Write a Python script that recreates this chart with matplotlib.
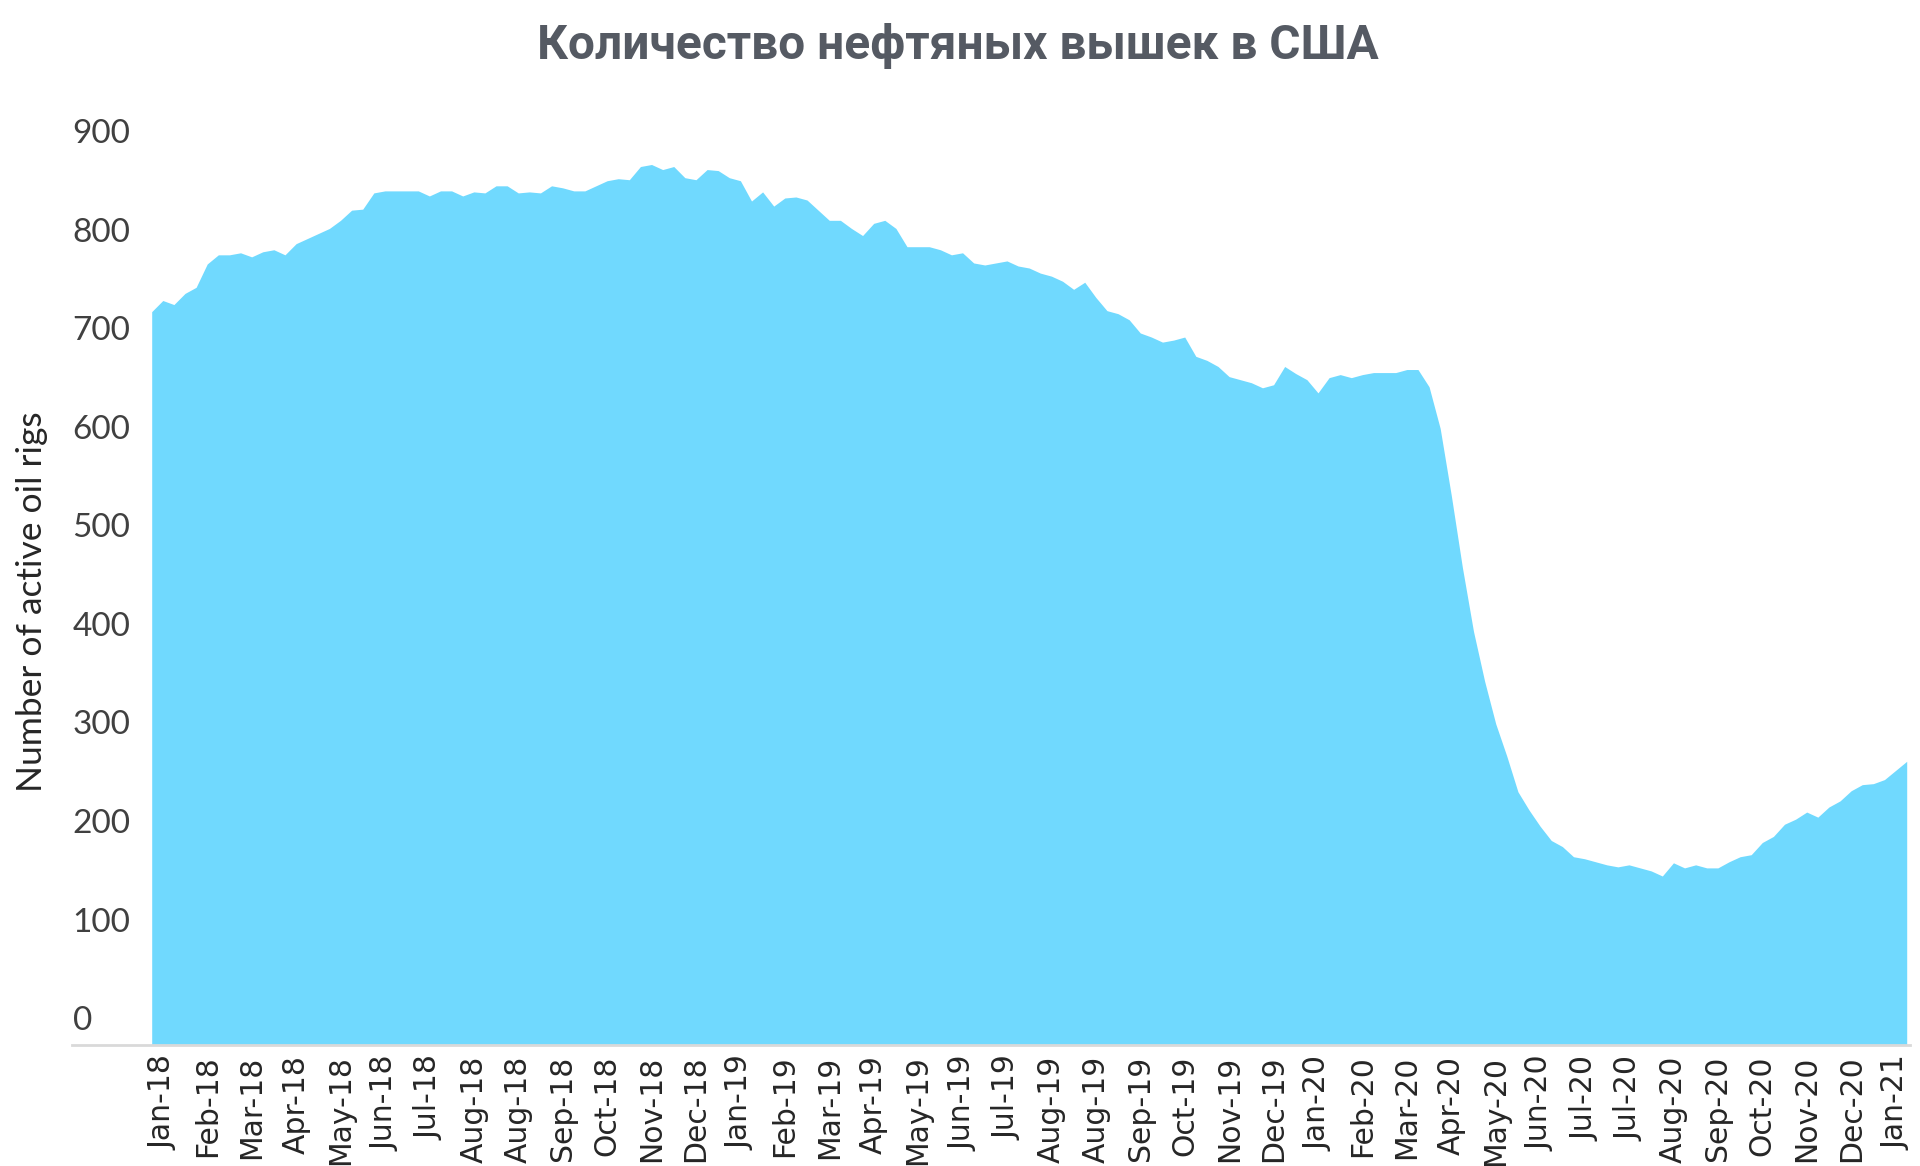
import numpy as np
import matplotlib
matplotlib.use('Agg')
import matplotlib.pyplot as plt
from matplotlib.lines import Line2D

# weekly count of active oil rigs
rigs = [
    722, 733, 729, 740, 746, 769, 778, 778, 780, 776,
    781, 783, 778, 789, 794, 799, 804, 812, 822, 823,
    839, 841, 841, 841, 841, 836, 841, 841, 836, 840,
    839, 846, 846, 839, 840, 839, 846, 844, 841, 841,
    846, 851, 853, 852, 865, 867, 862, 865, 854, 852,
    862, 861, 854, 851, 831, 840, 826, 834, 835, 832,
    822, 812, 812, 804, 797, 809, 812, 804, 786, 786,
    786, 783, 778, 780, 770, 768, 770, 772, 767, 765,
    760, 757, 752, 744, 751, 736, 723, 720, 714, 701,
    697, 692, 694, 697, 678, 674, 668, 658, 655, 652,
    647, 650, 668, 661, 655, 642, 657, 660, 657, 660,
    662, 662, 662, 665, 665, 648, 607, 541, 470, 407,
    358, 316, 284, 249, 231, 215, 201, 195, 185, 183,
    180, 177, 175, 177, 174, 171, 166, 179, 174, 177,
    174, 174, 180, 185, 187, 199, 205, 217, 222, 229,
    224, 234, 240, 250, 256, 257, 261, 270, 279,
]

# category labels, one every 4 weeks
month_labels = [
    'Jan-18', 'Feb-18', 'Mar-18', 'Apr-18', 'May-18', 'Jun-18', 'Jul-18',
    'Aug-18', 'Aug-18', 'Sep-18', 'Oct-18', 'Nov-18', 'Dec-18',
    'Jan-19', 'Feb-19', 'Mar-19', 'Apr-19', 'May-19', 'Jun-19', 'Jul-19',
    'Aug-19', 'Aug-19', 'Sep-19', 'Oct-19', 'Nov-19', 'Dec-19',
    'Jan-20', 'Feb-20', 'Mar-20', 'Apr-20', 'May-20', 'Jun-20', 'Jul-20',
    'Jul-20', 'Aug-20', 'Sep-20', 'Oct-20', 'Nov-20', 'Dec-20', 'Jan-21',
]

y_ticks = [0, 100, 200, 300, 400, 500, 600, 700, 800, 900]

title = 'Количество нефтяных вышек в США'
y_title = 'Number of active oil rigs'

W, H = 1920, 1166
fig = plt.figure(figsize=(W / 100, H / 100), dpi=100)
fig.patch.set_facecolor('white')

left, right = 151.7, 1906.7
top, bottom = 131.0, 1044.5
ax = fig.add_axes([left / W, 1 - bottom / H, (right - left) / W, (bottom - top) / H])

x = np.arange(len(rigs))
ax.fill_between(x, rigs, 0, color='#70d9fe', linewidth=0)

ax.set_xlim(0, len(rigs) - 1)
ax.set_ylim(0, 900)

for s in ax.spines.values():
    s.set_visible(False)

ax.set_xticks(x[1::4])
ax.set_xticklabels(month_labels, rotation=90, fontsize=21.5, family='DejaVu Sans',
                   color='#262626', va='top', ha='center')
ax.tick_params(axis='x', length=0, pad=8)

# the source squeezes its value labels slightly towards the top (0 sits above the baseline)
label_pos = [v + 26 * (900 - v) / 900 for v in y_ticks]
ax.set_yticks(label_pos)
ax.set_yticklabels([str(v) for v in y_ticks], fontsize=24, family='Lato', color='#404040')
ax.tick_params(axis='y', length=0, pad=57)
for lab in ax.get_yticklabels():
    lab.set_horizontalalignment('left')

ax.set_ylabel(y_title, fontsize=25.5, family='Lato', color='#262626', labelpad=0)
ax.yaxis.set_label_coords(-0.059, 0.485)

# baseline runs under the "0" label, like the source
fig.add_artist(Line2D([72 / W, 1910 / W], [1 - bottom / H, 1 - bottom / H],
                      color='#d9d9d9', linewidth=2))

fig.text(958 / W, 1 - 46 / H, title, ha='center', va='center', fontsize=34.5,
         family='Roboto', fontweight='bold', color='#555a63')

fig.savefig('out.png', dpi=100, facecolor='white')
